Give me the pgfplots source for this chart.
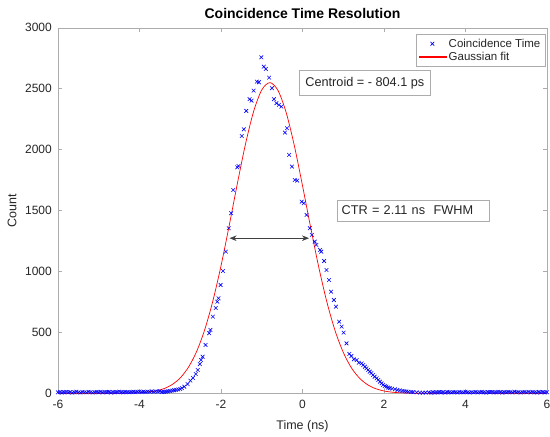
\documentclass[border=0pt]{standalone}
\usepackage{pgfplots}
\pgfplotsset{compat=1.18}
\usepackage{fontspec}
\setmainfont{Liberation Sans}
\usetikzlibrary{arrows.meta}
\pgfplotsset{
  legmark/.style={legend image code/.code={\draw[mark repeat=2,mark phase=2,#1] plot coordinates {(0pt,0pt) (14pt,0pt) (28pt,0pt)};}},
  legline/.style={legend image code/.code={\fill[red] (1pt,-0.4pt) rectangle (28pt,0.4pt);}},
}
\begin{document}
\fontsize{12}{14.4}\selectfont
\begin{tikzpicture}
\path[use as bounding box] (-58pt,-43.7pt) rectangle (492pt,393.3pt);
\begin{axis}[
  scale only axis, width=489pt, height=365.5pt,
  xmin=-6, xmax=6, ymin=0, ymax=3000,
  xtick={-6,-4,-2,0,2,4,6}, ytick={0,500,1000,1500,2000,2500,3000},
  /pgf/number format/assume math mode=true,
  /pgf/number format/1000 sep={},
  scaled y ticks=false,
  axis line style={gray!65, line width=0.6pt},
  tick style={gray!65, line width=0.6pt},
  tick align=inside, major tick length=4.5pt,
  tick label style={black!85},
  yticklabel style={xshift=-2pt},
  xticklabel style={yshift=-2.5pt},
  label style={black!85},
  title={\textbf{Coincidence Time Resolution}},
  title style={font=\fontsize{14}{16}\selectfont, black, at={(axis description cs:0.5,1.0246)}, anchor=base, yshift=-6pt},
  xlabel={Time (ns)},
  xlabel style={at={(axis description cs:0.5,-0.0985)}, anchor=base, font=\fontsize{12.5}{15}\selectfont},
  ylabel={Count},
  ylabel style={at={(axis description cs:-0.085,0.5)}, anchor=base, font=\fontsize{12.5}{15}\selectfont},
  legend style={at={(axis description cs:0.996,0.983)}, anchor=north east,
    draw=gray!65, font=\fontsize{11.5}{13}\selectfont,
    inner sep=2.5pt, row sep=-1pt, cells={anchor=west}},
]
\addplot[only marks, mark=x, blue, mark size=2.6pt, line width=0.6pt, legmark]
coordinates {
(-6.00,8) (-5.95,11) (-5.90,6) (-5.85,9) (-5.80,12) (-5.75,7) (-5.70,10) (-5.65,5) (-5.60,9) (-5.55,13)
(-5.50,8) (-5.45,6) (-5.40,11) (-5.35,9) (-5.30,7) (-5.25,12) (-5.20,10) (-5.15,6) (-5.10,9) (-5.05,11)
(-5.00,8) (-4.95,13) (-4.90,7) (-4.85,10) (-4.80,9) (-4.75,12) (-4.70,6) (-4.65,11) (-4.60,8) (-4.55,10)
(-4.50,14) (-4.45,9) (-4.40,7) (-4.35,12) (-4.30,10) (-4.25,8) (-4.20,11) (-4.15,13) (-4.10,9) (-4.05,12)
(-4.00,15) (-3.95,10) (-3.90,13) (-3.85,11) (-3.80,14) (-3.75,12) (-3.70,16) (-3.65,13) (-3.60,15) (-3.55,14)
(-3.50,17) (-3.45,10) (-3.40,12) (-3.35,14) (-3.30,16) (-3.25,19) (-3.20,22) (-3.15,25) (-3.10,28) (-3.05,31)
(-3.00,35) (-2.96,42) (-2.90,54) (-2.82,76) (-2.75,104) (-2.69,126) (-2.62,158) (-2.57,191) (-2.52,240) (-2.49,273)
(-2.45,300) (-2.38,397) (-2.29,493) (-2.26,520) (-2.20,629) (-2.13,700) (-2.09,752) (-2.06,780) (-2.01,889) (-1.95,1004)
(-1.88,1163) (-1.81,1355) (-1.75,1478) (-1.70,1669) (-1.60,1855) (-1.57,1866) (-1.49,2112) (-1.44,2167) (-1.38,2318) (-1.30,2414)
(-1.25,2402) (-1.20,2484) (-1.12,2558) (-1.07,2553) (-1.01,2758) (-0.95,2681) (-0.90,2662) (-0.82,2591) (-0.75,2504) (-0.70,2414)
(-0.64,2381) (-0.58,2367) (-0.52,2353) (-0.43,2140) (-0.38,2176) (-0.33,1957) (-0.26,1861) (-0.19,1751) (-0.13,1746) (-0.02,1573)
(0.03,1560) (0.10,1464) (0.18,1355) (0.23,1300) (0.30,1245) (0.34,1218) (0.43,1177) (0.46,1163) (0.53,1086) (0.59,1012)
(0.65,930) (0.70,834) (0.77,766) (0.82,711) (0.90,588) (0.96,547) (1.01,498) (1.08,410) (1.15,323) (1.20,306)
(1.26,279) (1.33,273) (1.38,251) (1.45,245) (1.49,232) (1.53,218) (1.57,205) (1.61,192) (1.65,178) (1.69,165)
(1.73,150) (1.77,136) (1.82,123) (1.86,110) (1.90,95) (1.94,82) (1.98,70) (2.02,60) (2.06,55) (2.10,47)
(2.14,42) (2.20,38) (2.27,33) (2.33,28) (2.39,24) (2.45,20) (2.50,18) (2.55,15) (2.60,12) (2.67,11)
(2.72,10) (2.80,8) (2.88,6) (2.95,5) (3.02,6)
(3.10,7) (3.15,5) (3.20,9) (3.25,6) (3.30,8) (3.35,10) (3.40,7) (3.45,9) (3.50,6) (3.55,11)
(3.60,8) (3.65,7) (3.70,10) (3.75,9) (3.80,6) (3.85,12) (3.90,8) (3.95,7) (4.00,13) (4.05,9)
(4.10,6) (4.15,10) (4.20,8) (4.25,11) (4.30,7) (4.35,9) (4.40,12) (4.45,8) (4.50,6) (4.55,10)
(4.60,9) (4.65,11) (4.70,7) (4.75,8) (4.80,12) (4.85,9) (4.90,6) (4.95,10) (5.00,8) (5.05,11)
(5.10,9) (5.15,7) (5.20,13) (5.25,8) (5.30,10) (5.35,6) (5.40,9) (5.45,11) (5.50,8) (5.55,12)
(5.60,7) (5.65,10) (5.70,9) (5.75,6) (5.80,11) (5.85,8) (5.90,10) (5.95,7) (6.00,9)
};
\addlegendentry{\textcolor{black!85}{Coincidence Time}}
\addplot[red, line width=0.7pt, smooth, legline]
coordinates {
(-6.0,0) (-5.0,0) (-4.6,0.2) (-4.4,0.8) (-4.2,1.9) (-4.0,4.4) (-3.8,9.5) (-3.6,19.6) (-3.4,38.4)
(-3.2,71.4) (-3.0,126.6) (-2.8,213.3) (-2.6,342) (-2.4,521.6) (-2.2,757.6) (-2.0,1046)
(-1.8,1374.7) (-1.6,1718.4) (-1.4,2044) (-1.2,2312.9) (-1.0,2489.7) (-0.8,2550)
(-0.6,2484.7) (-0.4,2303.5) (-0.2,2031.9) (0.0,1704.9) (0.2,1361.3) (0.4,1033.8)
(0.6,747.1) (0.8,513.6) (1.0,336.1) (1.2,209) (1.4,123.8) (1.6,69.7) (1.8,37.4)
(2.0,19.0) (2.2,9.2) (2.4,4.3) (2.6,1.9) (2.8,0.8) (3.0,0.3) (3.4,0) (6.0,0)
};
\addlegendentry{\textcolor{black!85}{Gaussian fit}}
\addplot[black!75, line width=0.6pt, {Stealth[length=7pt,width=5.5pt]}-{Stealth[length=7pt,width=5.5pt]}, forget plot]
coordinates {(-1.79,1273) (0.16,1273)};
\node[draw=gray!65, fill=white, text=black!85, font=\fontsize{12.7}{15}\selectfont, inner xsep=6pt, inner ysep=6.5pt] at (axis cs:1.531,2547) {Centroid = - 804.1 ps};
\node[draw=gray!65, fill=white, text=black!85, font=\fontsize{12.7}{15}\selectfont, inner xsep=5pt, inner ysep=6.2pt, text width=142pt, align=left] at (axis cs:2.705,1500) {CTR = 2.11 ns\ \ FWHM};
\end{axis}
\end{tikzpicture}
\end{document}
